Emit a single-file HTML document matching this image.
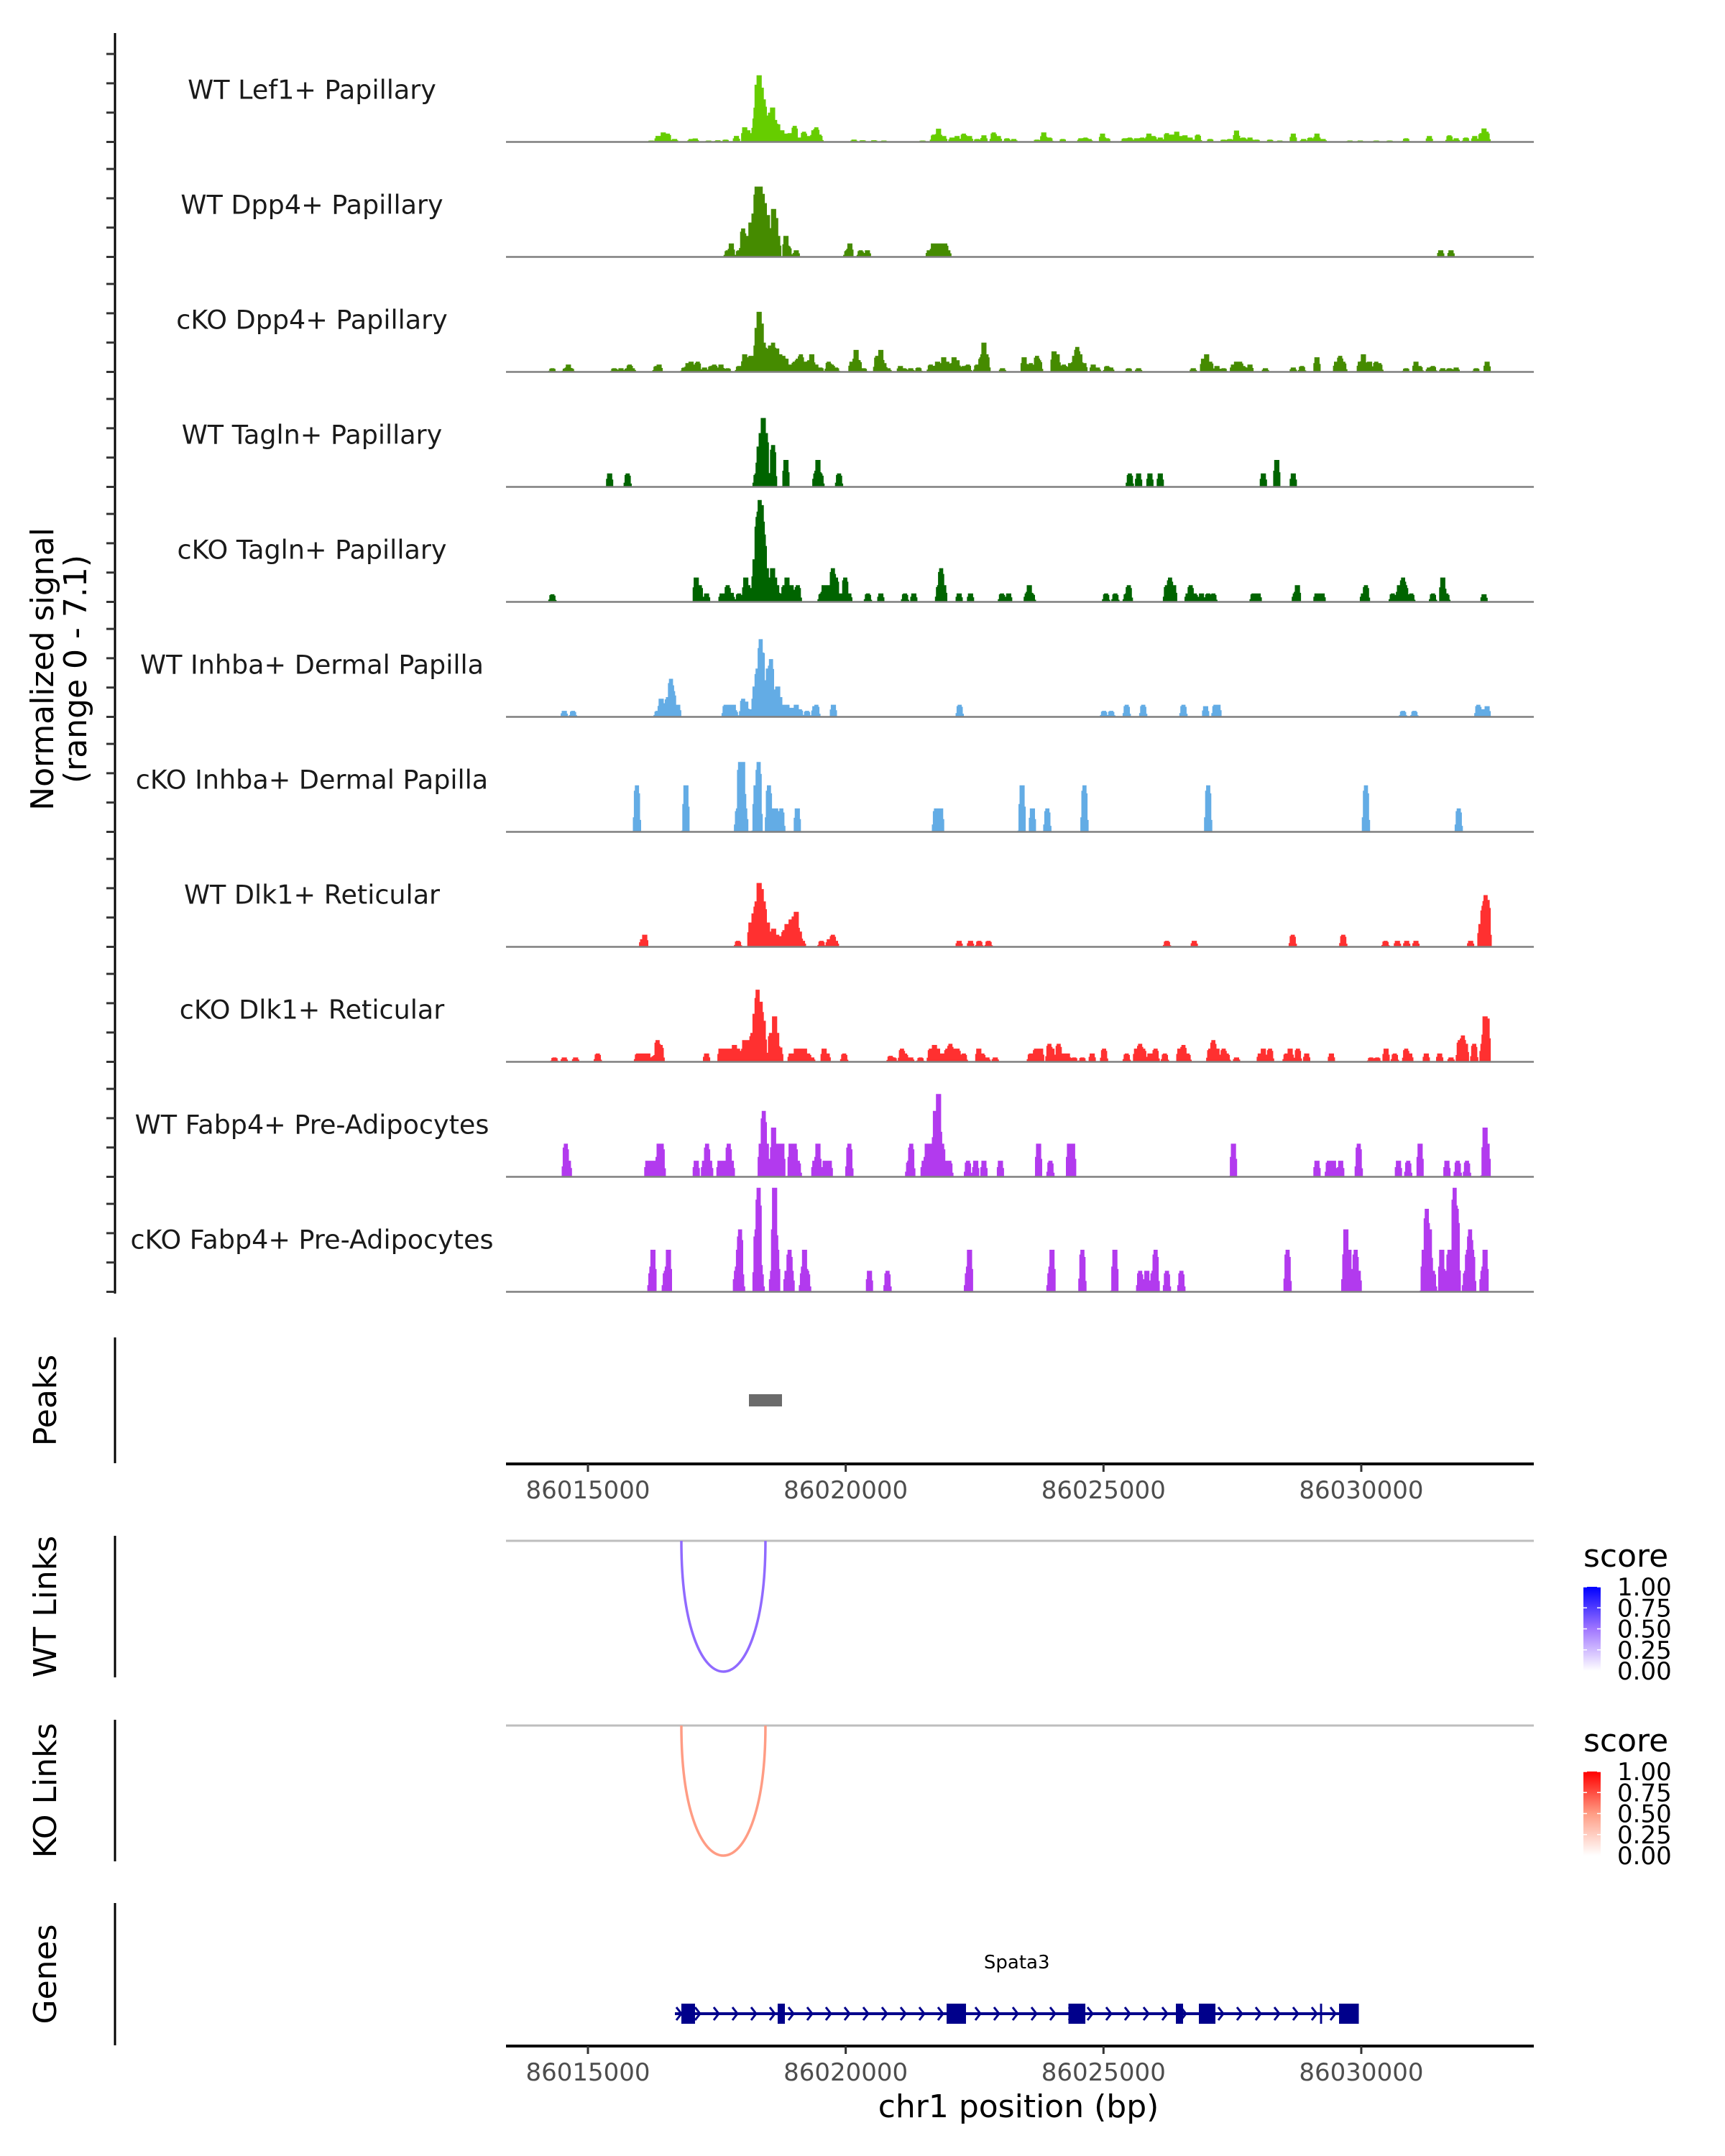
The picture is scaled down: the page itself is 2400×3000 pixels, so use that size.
<!DOCTYPE html>
<html><head><meta charset="utf-8"><style>
html,body{margin:0;padding:0;background:#fff;}
svg{display:block;font-family:"DejaVu Sans","Liberation Sans",sans-serif;}
</style></head><body>
<svg id="chart" width="2400" height="3000" viewBox="0 0 2400 3000" xmlns="http://www.w3.org/2000/svg">
<rect width="2400" height="3000" fill="#fff"/>
<g id="tracks"></g>
<g id="other"></g>
</svg>
<script>
// ---- data (positions in kb relative to chr1:86,000,000; values = normalized signal) ----
const trackNames = ["WT Lef1+ Papillary","WT Dpp4+ Papillary","cKO Dpp4+ Papillary","WT Tagln+ Papillary","cKO Tagln+ Papillary","WT Inhba+ Dermal Papilla","cKO Inhba+ Dermal Papilla","WT Dlk1+ Reticular","cKO Dlk1+ Reticular","WT Fabp4+ Pre-Adipocytes","cKO Fabp4+ Pre-Adipocytes"];
const trackColors = ["#66cd00","#458b00","#458b00","#006400","#006400","#63ace5","#63ace5","#ff3030","#ff3030","#b23aee","#b23aee"];
const pos1 = [16.23,16.36,16.46,16.55,16.68,17.00,17.08,17.34,17.52,17.67,17.88,18.04,18.10,18.19,18.24,18.28,18.32,18.36,18.41,18.46,18.53,18.58,18.63,18.68,18.76,18.84,18.91,19.01,19.11,19.19,19.27,19.38,19.43,19.49,20.16,20.33,20.55,20.74,21.49,21.71,21.80,21.90,22.06,22.16,22.29,22.40,22.55,22.68,22.87,22.96,23.13,23.26,23.71,23.84,23.95,24.21,24.56,24.65,24.72,24.98,25.07,25.41,25.51,25.64,25.75,25.88,25.97,26.10,26.23,26.33,26.42,26.48,26.58,26.68,26.83,27.07,27.33,27.45,27.58,27.71,27.84,27.97,28.23,28.42,28.68,28.88,29.01,29.14,29.26,29.78,29.98,30.29,30.55,30.87,31.32,31.71,31.84,32.03,32.20,32.33,32.38,32.43];
const val1 = [0.1,0.41,0.65,0.57,0.2,0.2,0.24,0.1,0.12,0.16,0.41,1.0,0.8,0.6,1.6,3.9,4.55,3.7,2.9,1.8,2.0,2.35,1.5,1.2,0.8,0.57,0.6,1.1,0.3,0.7,0.4,0.8,1.0,0.5,0.16,0.12,0.12,0.1,0.1,0.5,0.9,0.4,0.3,0.4,0.57,0.4,0.2,0.45,0.65,0.4,0.25,0.2,0.16,0.65,0.3,0.2,0.25,0.3,0.2,0.57,0.25,0.25,0.3,0.25,0.3,0.57,0.4,0.3,0.6,0.5,0.7,0.4,0.45,0.3,0.5,0.2,0.16,0.2,0.78,0.3,0.3,0.16,0.16,0.1,0.57,0.2,0.3,0.57,0.2,0.1,0.1,0.1,0.1,0.25,0.4,0.45,0.25,0.3,0.4,0.6,0.92,0.7];
const pos2 = [17.71,17.78,17.93,18.01,18.07,18.16,18.22,18.27,18.31,18.35,18.38,18.42,18.48,18.55,18.60,18.64,18.68,18.84,18.89,19.04,20.03,20.08,20.29,20.42,21.62,21.70,21.78,21.85,21.93,21.98,31.54,31.74];
const val2 = [0.45,0.92,0.45,1.94,1.43,2.35,2.96,4.8,4.1,4.8,4.3,3.67,2.86,1.43,3.27,2.65,1.43,1.43,0.71,0.45,0.45,0.92,0.45,0.45,0.45,0.92,0.92,0.92,0.92,0.45,0.45,0.45];
const pos3 = [14.31,14.57,14.62,14.67,15.51,15.64,15.77,15.81,15.86,16.33,16.38,16.87,16.94,17.00,17.07,17.13,17.26,17.39,17.45,17.58,17.71,17.93,18.04,18.10,18.16,18.23,18.28,18.32,18.36,18.41,18.46,18.53,18.59,18.66,18.72,18.79,18.84,18.91,19.01,19.07,19.13,19.19,19.29,19.34,19.42,19.51,19.67,19.73,19.81,20.12,20.20,20.25,20.35,20.61,20.68,20.74,20.82,21.06,21.13,21.26,21.41,21.65,21.78,21.90,21.97,22.10,22.16,22.29,22.37,22.55,22.63,22.68,22.73,23.04,23.46,23.59,23.71,23.75,24.04,24.10,24.23,24.36,24.44,24.49,24.54,24.62,24.80,24.88,25.07,25.14,25.49,25.68,26.74,26.94,27.00,27.07,27.20,27.33,27.52,27.58,27.65,27.71,27.84,28.14,28.68,28.85,29.14,29.52,29.59,29.65,29.98,30.04,30.16,30.29,30.35,30.87,31.06,31.13,31.32,31.39,31.58,31.71,31.84,32.23,32.44];
const val3 = [0.25,0.25,0.5,0.25,0.25,0.25,0.25,0.5,0.25,0.4,0.5,0.3,0.6,0.7,0.5,0.7,0.3,0.4,0.5,0.5,0.25,0.4,1.2,1.0,1.1,0.8,3.0,4.1,3.3,2.0,1.4,1.8,2.0,1.6,1.2,1.1,0.9,0.5,0.7,0.9,1.2,0.7,0.8,1.2,0.5,0.3,0.7,0.5,0.3,0.7,1.5,0.8,0.25,1.1,1.5,0.6,0.25,0.4,0.25,0.25,0.3,0.5,0.7,1.0,0.7,1.0,0.8,0.4,0.5,0.5,1.0,2.0,1.2,0.25,1.0,0.6,1.1,0.8,1.4,1.2,0.5,0.6,1.1,1.7,1.2,0.6,0.5,0.3,0.4,0.3,0.25,0.25,0.25,0.9,1.2,0.7,0.4,0.25,0.5,0.7,0.7,0.4,0.5,0.25,0.3,0.4,1.0,0.7,1.1,0.7,0.7,1.2,0.7,0.7,0.6,0.25,0.7,0.4,0.3,0.4,0.25,0.25,0.3,0.25,0.7];
const pos4 = [15.42,15.77,18.27,18.32,18.36,18.40,18.45,18.50,18.59,18.84,19.42,19.46,19.51,19.87,25.51,25.68,25.90,26.10,28.10,28.36,28.68];
const val4 = [0.92,0.92,0.92,2.75,3.67,4.7,3.67,0.92,2.86,1.84,0.92,1.84,0.92,0.92,0.92,0.92,0.92,0.92,0.92,1.84,0.92];
const pos5 = [14.31,17.10,17.17,17.30,17.60,17.71,17.78,17.93,18.06,18.11,18.24,18.29,18.33,18.37,18.41,18.46,18.53,18.58,18.62,18.66,18.75,18.81,18.86,18.94,19.01,19.07,19.53,19.58,19.67,19.75,19.81,19.90,19.99,20.06,20.43,20.68,21.15,21.32,21.81,21.85,21.90,22.20,22.42,23.03,23.16,23.52,23.56,23.61,25.05,25.23,25.45,25.49,26.23,26.29,26.36,26.64,26.69,26.77,26.90,27.03,27.13,27.91,28.00,28.72,28.76,29.14,29.24,30.04,30.09,30.61,30.74,30.81,30.85,30.97,31.39,31.58,31.65,32.38];
const val5 = [0.52,1.66,1.14,0.58,0.58,1.14,0.62,0.58,1.66,1.14,2.9,5.8,6.95,6.6,4.6,2.3,1.66,2.3,1.66,1.14,0.58,1.14,1.66,1.14,0.83,1.14,0.58,1.14,1.14,2.3,1.66,0.58,1.66,0.58,0.58,0.58,0.58,0.58,1.14,2.3,1.14,0.58,0.58,0.58,0.58,0.58,1.14,0.58,0.58,0.58,0.58,1.14,1.14,1.66,1.14,0.58,1.14,0.58,0.58,0.58,0.58,0.58,0.58,0.58,1.14,0.58,0.58,0.58,1.14,0.58,1.14,1.66,1.14,0.58,0.58,1.66,0.58,0.52];
const pos6 = [14.54,14.71,16.35,16.42,16.48,16.55,16.61,16.65,16.74,17.67,17.73,17.82,17.85,18.01,18.06,18.13,18.24,18.29,18.35,18.38,18.44,18.50,18.55,18.62,18.68,18.72,18.79,18.86,18.94,19.04,19.11,19.25,19.40,19.43,19.76,22.21,25.01,25.15,25.45,25.77,26.55,26.98,27.17,27.22,30.81,31.03,32.27,32.36,32.44];
const val6 = [0.41,0.41,0.41,1.24,0.93,1.35,2.6,1.76,0.83,0.83,0.83,0.83,0.41,1.24,1.04,0.52,2.07,3.3,5.3,4.36,2.5,3.3,3.94,1.87,2.07,1.35,0.83,0.83,0.62,0.83,0.52,0.41,0.73,0.83,0.83,0.83,0.41,0.41,0.83,0.83,0.83,0.73,0.83,0.83,0.41,0.41,0.83,0.52,0.73];
const pos7 = [15.95,16.90,17.91,17.95,18.00,18.04,18.26,18.31,18.51,18.58,18.64,18.75,19.06,21.75,21.84,23.42,23.62,23.91,24.63,27.03,30.09,31.89];
const val7 = [3.17,3.17,1.6,4.77,4.77,1.6,3.17,4.77,3.17,1.6,1.6,1.6,1.6,1.6,1.6,3.17,1.6,1.6,3.17,3.17,3.17,1.6];
const pos8 = [16.06,16.10,17.91,18.16,18.22,18.27,18.32,18.36,18.41,18.48,18.54,18.60,18.66,18.75,18.81,18.86,18.94,18.99,19.04,19.10,19.16,19.53,19.68,19.75,19.80,22.20,22.42,22.59,22.77,26.23,26.76,28.67,29.65,30.47,30.70,30.88,31.06,32.12,32.32,32.37,32.41,32.45];
const val8 = [0.52,0.83,0.41,1.66,2.28,3.1,4.36,3.94,3.1,1.66,1.04,1.24,0.83,0.73,1.14,1.56,1.87,2.07,2.39,1.04,0.41,0.41,0.52,0.83,0.41,0.41,0.41,0.41,0.41,0.41,0.41,0.83,0.83,0.41,0.41,0.41,0.41,0.41,1.56,2.8,3.53,3.2];
const pos9 = [14.35,14.54,14.76,15.19,15.97,16.06,16.16,16.29,16.35,16.41,17.30,17.58,17.67,17.75,17.84,17.91,18.04,18.13,18.19,18.24,18.29,18.35,18.40,18.55,18.62,18.66,18.72,18.94,19.04,19.11,19.20,19.27,19.34,19.58,19.64,19.97,20.87,20.93,21.09,21.15,21.26,21.45,21.65,21.72,21.78,21.88,21.97,22.03,22.12,22.17,22.29,22.58,22.65,22.74,22.90,23.59,23.69,23.78,23.95,24.00,24.13,24.23,24.30,24.43,24.59,24.78,25.01,25.45,25.64,25.71,25.77,25.90,26.01,26.19,26.48,26.55,26.63,27.07,27.13,27.20,27.33,27.39,27.58,28.04,28.10,28.23,28.55,28.62,28.77,28.94,29.42,30.19,30.31,30.48,30.65,30.87,30.94,31.26,31.52,31.74,31.91,31.97,32.02,32.19,32.36,32.40,32.44];
const val9 = [0.3,0.3,0.3,0.57,0.57,0.57,0.57,0.41,1.48,1.15,0.57,0.9,0.9,0.9,1.15,0.9,1.48,1.48,1.97,3.28,4.92,4.1,2.8,1.97,3.1,1.97,0.98,0.57,0.9,0.9,0.9,0.57,0.3,0.9,0.57,0.57,0.41,0.3,0.9,0.57,0.3,0.3,0.9,1.15,0.9,0.57,0.9,1.23,0.9,0.9,0.57,0.9,0.57,0.3,0.3,0.57,0.9,0.9,1.23,0.9,1.23,0.57,0.57,0.3,0.3,0.57,0.9,0.57,0.9,1.23,0.9,0.57,0.9,0.57,0.9,1.15,0.57,0.9,1.48,0.9,0.9,0.57,0.3,0.57,0.9,0.9,0.57,0.9,0.9,0.57,0.57,0.3,0.3,0.9,0.57,0.9,0.57,0.57,0.57,0.3,1.48,1.8,1.23,1.23,1.23,3.1,2.95];
const pos10 = [14.57,14.62,16.16,16.23,16.29,16.38,16.43,17.10,17.26,17.31,17.36,17.56,17.62,17.67,17.73,17.78,18.36,18.41,18.46,18.55,18.60,18.66,18.76,18.94,19.01,19.07,19.40,19.46,19.60,19.68,20.07,21.23,21.27,21.52,21.58,21.65,21.74,21.80,21.87,21.93,22.01,22.37,22.52,22.68,23.00,23.74,23.97,24.34,24.40,27.52,29.14,29.37,29.46,29.60,29.95,30.72,30.91,31.14,31.66,31.87,32.05,32.40,32.44];
const val10 = [2.26,1.1,1.1,1.1,1.1,2.26,2.26,1.1,1.1,2.26,1.1,1.1,1.1,1.1,2.26,1.1,2.26,4.5,2.26,1.1,3.36,2.26,2.26,2.26,2.26,1.1,1.1,2.26,1.1,1.1,2.26,1.1,2.26,1.1,2.26,2.26,4.5,5.65,2.26,1.1,1.1,1.1,1.1,1.1,1.1,2.26,1.1,2.26,2.26,2.26,1.1,1.1,1.1,1.1,2.26,1.1,1.1,2.26,1.1,1.1,1.1,3.36,2.26];
const pos11 = [16.23,16.26,16.51,16.56,17.88,17.92,17.95,17.97,18.27,18.31,18.35,18.58,18.62,18.66,18.86,18.91,18.94,19.17,19.20,19.25,20.46,20.81,22.37,22.40,23.97,24.00,24.59,25.22,25.71,25.84,25.97,26.01,26.23,26.51,28.57,29.68,29.70,29.76,29.83,29.89,29.94,31.22,31.27,31.32,31.39,31.56,31.61,31.71,31.76,31.81,31.85,32.03,32.07,32.11,32.15,32.36,32.40];
const val11 = [1.43,2.87,1.43,2.87,1.43,2.87,4.26,1.43,4.26,7.1,1.43,1.43,7.1,2.87,1.43,2.87,1.43,1.43,2.87,1.43,1.43,1.43,1.43,2.87,1.43,2.87,2.87,2.87,1.43,1.43,1.43,2.87,1.43,1.43,2.87,1.43,4.26,2.87,1.43,2.87,1.43,2.87,5.66,4.26,1.43,2.87,1.43,2.87,2.87,7.1,5.66,1.43,2.87,4.26,2.87,1.43,2.87];
const trackPos = [pos1,pos2,pos3,pos4,pos5,pos6,pos7,pos8,pos9,pos10,pos11];
const trackVal = [val1,val2,val3,val4,val5,val6,val7,val8,val9,val10,val11];
const signalTicks = [0,2,4,6];
const xTickValues = [86015000,86020000,86025000,86030000];
const xTickLabels = ["86015000","86020000","86025000","86030000"];
const peakStarts = [86018123];
const peakEnds = [86018764];
const wtLinkStart = [86016812], wtLinkEnd = [86018443], wtLinkScore = [0.55];
const koLinkStart = [86016812], koLinkEnd = [86018443], koLinkScore = [0.5];
const geneName = "Spata3";
const geneStart = 86016687, geneEnd = 86029950;
const exonStarts = [86016812,86018680,86021957,86024320,86026404,86026850,86029200,86029569];
const exonEnds = [86017077,86018820,86022333,86024648,86026543,86027171,86029240,86029952];
const legendTicks = [0,0.25,0.5,0.75,1];
const legendLabels = ["0.00","0.25","0.50","0.75","1.00"];

// ---- scales ----
const NS = "http://www.w3.org/2000/svg";
const X0 = 704, X1 = 2134;
function xs(bp){ return 818 + (bp - 86015000) * 0.07173; }
function baseY(i){ return 197.5 + 160 * i; }
function ys(i, v){ return baseY(i) - v * 20.4; }
function el(tag, attrs, parent, text){
  const e = document.createElementNS(NS, tag);
  for (const k in attrs) e.setAttribute(k, attrs[k]);
  if (text !== undefined) e.textContent = text;
  parent.appendChild(e); return e;
}
const gT = document.getElementById('tracks');
const gO = document.getElementById('other');

let ax = el('line',{x1:160,y1:46,x2:160,y2:1800,stroke:'#000','stroke-width':3},gT);


let yt = el('text',{x:0,y:0,'font-size':44,'text-anchor':'middle',fill:'#000',transform:'translate(80,931) rotate(-90)'},gT);


el('tspan',{x:0,dy:-6},yt,'Normalized signal');
el('tspan',{x:0,dy:46},yt,'(range 0 - 7.1)');

const binBp = 20, startBp = 86013411, endBp = 86033346;
const nBins = Math.ceil((endBp - startBp) / binBp);
for (let i = 0; i < trackNames.length; i++){
  const g = el('g',{},gT);
  
  
  const cov = new Array(nBins).fill(0);
  const P = trackPos[i], V = trackVal[i];
  for (let k = 0; k < P.length; k++){
    const c = 86000000 + P[k] * 1000;
    for (let b = 0; b < nBins; b++){
      const m = startBp + (b + 0.5) * binBp;
      const d = Math.abs(m - c);
      let w = 0;
      if (d <= 45) w = 1; else if (d < 80) w = (80 - d) / 35;
      if (w > 0) cov[b] = Math.max(cov[b], V[k] * w);
    }
  }
  let pts = xs(startBp).toFixed(1) + ',' + baseY(i).toFixed(1);
  for (let b = 0; b < nBins; b++){
    const xa = xs(startBp + b * binBp), xb = xs(startBp + (b + 1) * binBp);
    const yv = ys(i, cov[b]);
    pts += ' ' + xa.toFixed(1) + ',' + yv.toFixed(1) + ' ' + xb.toFixed(1) + ',' + yv.toFixed(1);
  }
  pts += ' ' + xs(endBp).toFixed(1) + ',' + baseY(i).toFixed(1);
  const area = el('polygon',{points:pts,fill:trackColors[i]},g);
  
  
  const bl = el('line',{x1:X0,x2:X1,y1:baseY(i),y2:baseY(i),stroke:'#7f7f7f','stroke-width':2.5},g);
  
  
  const lb = el('text',{x:434,y:baseY(i) - 60,'font-size':36.5,'text-anchor':'middle',fill:'#1a1a1a'},g,trackNames[i]);
  
  
  for (const t of signalTicks){
    const tk = el('line',{x1:148,x2:160,y1:ys(i,t),y2:ys(i,t),stroke:'#333','stroke-width':3},g);
    
    
  }
}

function sideLabel(txt, y1, y2, name){
  const l = el('line',{x1:160,x2:160,y1:y1,y2:y2,stroke:'#000','stroke-width':3},gO);
  
  
  const t = el('text',{x:0,y:0,'font-size':44,'text-anchor':'middle',fill:'#000',transform:'translate(78,' + ((y1+y2)/2) + ') rotate(-90)'},gO,txt);
  
  
}
sideLabel('Peaks',1861,2036,'peaks');
sideLabel('WT Links',2137,2334,'wt-links');
sideLabel('KO Links',2393,2590,'ko-links');
sideLabel('Genes',2648,2846,'genes');

for (let k = 0; k < peakStarts.length; k++){
  const r = el('rect',{x:xs(peakStarts[k]),y:1940,width:xs(peakEnds[k])-xs(peakStarts[k]),height:17,fill:'#6b6b6b'},gO);
  
  
}

function xAxis(y, name){
  const g = el('g',{},gO);
  
  
  el('line',{x1:X0,x2:X1,y1:y,y2:y,stroke:'#000','stroke-width':4},g);
  for (let k = 0; k < xTickValues.length; k++){
    const x = xs(xTickValues[k]);
    el('line',{x1:x,x2:x,y1:y,y2:y+11,stroke:'#333','stroke-width':3},g);
    const t = el('text',{x:x,y:y+48,'font-size':34,'text-anchor':'middle',fill:'#4d4d4d'},g,xTickLabels[k]);
    
    
  }
}
xAxis(2037,'x-axis-top');
xAxis(2847,'x-axis-bottom');
const xt = el('text',{x:1417,y:2946,'font-size':44,'text-anchor':'middle',fill:'#000'},gO,'chr1 position (bp)');



// three-stop colour ramp approximating ggplot's Lab interpolation
function ramp(stops, s){
  const seg = s < 0.5 ? 0 : 1, t = s < 0.5 ? s / 0.5 : (s - 0.5) / 0.5;
  const a = stops[seg], b = stops[seg + 1];
  return 'rgb(' + a.map((v, j) => Math.round(v + (b[j] - v) * t)).join(',') + ')';
}
function linkPanel(topY, depth, S, E, SC, stops, legendY, name){
  const g = el('g',{},gO);
  
  
  el('line',{x1:X0,x2:X1,y1:topY,y2:topY,stroke:'#bebebe','stroke-width':3},g);
  for (let k = 0; k < S.length; k++){
    const a = xs(S[k]), b = xs(E[k]);
    const c = topY + depth / 0.75;
    const p = el('path',{d:'M'+a+','+topY+' C'+a+','+c+' '+b+','+c+' '+b+','+topY,fill:'none',stroke:ramp(stops,SC[k]),'stroke-width':3.5},g);
    
    
  }
  const lg = el('g',{},g);
  
  
  el('text',{x:2203,y:legendY,'font-size':44,fill:'#000'},lg,'score');
  const gid = 'grad-' + name;
  const defs = el('defs',{},lg);
  const gr = el('linearGradient',{id:gid,x1:0,y1:1,x2:0,y2:0},defs);
  el('stop',{offset:'0','stop-color':ramp(stops,0)},gr);
  el('stop',{offset:'0.5','stop-color':ramp(stops,0.5)},gr);
  el('stop',{offset:'1','stop-color':ramp(stops,1)},gr);
  const bt = legendY + 28, bh = 117;
  el('rect',{x:2203,y:bt,width:24,height:bh,fill:'url(#'+gid+')'},lg);
  for (let k = 0; k < legendTicks.length; k++){
    const y = bt + bh - legendTicks[k] * bh;
    el('line',{x1:2203,x2:2208,y1:y,y2:y,stroke:'#fff','stroke-width':1.5},lg);
    el('line',{x1:2222,x2:2227,y1:y,y2:y,stroke:'#fff','stroke-width':1.5},lg);
    el('text',{x:2250,y:y+12,'font-size':34,fill:'#000'},lg,legendLabels[k]);
  }
}
linkPanel(2144, 182, wtLinkStart, wtLinkEnd, wtLinkScore, [[255,255,255],[160,118,255],[0,0,255]], 2180, 'wt-links');
linkPanel(2401, 181, koLinkStart, koLinkEnd, koLinkScore, [[255,255,255],[255,156,132],[255,0,0]], 2437, 'ko-links');

const gg = el('g',{},gO);


const gy = 2802, gc = '#00008b';
el('text',{x:(xs(geneStart)+xs(geneEnd))/2,y:2739,'font-size':26,'text-anchor':'middle',fill:'#000'},gg,geneName);
el('line',{x1:xs(geneStart),x2:xs(geneEnd),y1:gy,y2:gy,stroke:gc,'stroke-width':4},gg);
for (let x = xs(geneStart) + 6; x < xs(geneEnd) - 4; x += 26){
  el('polyline',{points:(x-4)+','+(gy-9)+' '+(x+3)+','+gy+' '+(x-4)+','+(gy+9),fill:'none',stroke:gc,'stroke-width':3},gg);
}
for (let k = 0; k < exonStarts.length; k++){
  const ex = el('rect',{x:xs(exonStarts[k]),y:gy-14,width:Math.max(2,xs(exonEnds[k])-xs(exonStarts[k])),height:28,fill:gc},gg);
  
  
}
</script>
</body></html>
